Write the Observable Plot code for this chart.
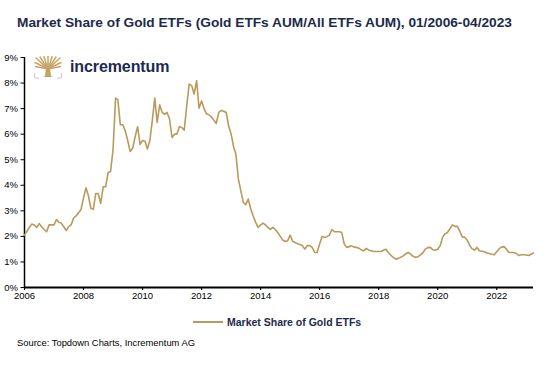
<!DOCTYPE html>
<html><head><meta charset="utf-8">
<script src="https://cdn.jsdelivr.net/npm/d3@7"></script>
<script src="https://cdn.jsdelivr.net/npm/@observablehq/plot@0.6"></script>
<style>
body{margin:0;background:#fff;font-family:"Liberation Sans",Arial,sans-serif;}
#wrap{position:relative;width:552px;height:376px;overflow:hidden;background:#fff;}
#title{position:absolute;left:17px;top:15px;font-size:13.7px;font-weight:bold;color:#1c2a4c;white-space:nowrap;}
#chart{position:absolute;left:0;top:40px;}
#logo{position:absolute;left:34px;top:56px;}
#brand{position:absolute;left:70px;top:58px;font-size:16px;font-weight:bold;color:#1c2a55;letter-spacing:-0.1px;}
#legend{position:absolute;left:193px;top:315px;height:14px;display:flex;align-items:center;white-space:nowrap;}
#legend .sw{width:30px;height:2px;background:#b99a5b;margin-right:4px;}
#legend .lt{font-size:10.5px;font-weight:bold;color:#1c2a4c;}
#source{position:absolute;left:17px;top:337px;font-size:9.4px;color:#000;white-space:nowrap;}
</style></head>
<body>
<div id="wrap">
  <div id="title">Market Share of Gold ETFs (Gold ETFs AUM/All ETFs AUM), 01/2006-04/2023</div>
  <div id="chart"></div>
  <svg id="logo" width="28" height="23" viewBox="0 0 28 23">
    <g stroke="#c4a464" stroke-width="1.5" fill="none" stroke-linecap="round">
      <line x1="14" y1="13" x2="2" y2="2"/>
      <line x1="14" y1="13" x2="6" y2="1"/>
      <line x1="14" y1="13" x2="10" y2="0.8"/>
      <line x1="14" y1="13" x2="14" y2="0.5"/>
      <line x1="14" y1="13" x2="18" y2="0.8"/>
      <line x1="14" y1="13" x2="22" y2="1"/>
      <line x1="14" y1="13" x2="26" y2="2"/>
      <line x1="14" y1="13" x2="1" y2="6.5"/>
      <line x1="14" y1="13" x2="27" y2="6.5"/>
      <line x1="14" y1="13" x2="1.5" y2="10.5"/>
      <line x1="14" y1="13" x2="26.5" y2="10.5"/>
    </g>
    <path d="M12 12 L16 12 L17 20 L19 21 L9 21 L11 20 Z" fill="#c4a464"/>
    <g stroke="#c8c8c8" stroke-width="1" fill="none">
      <polyline points="0.5,17 0.5,22 5,22"/>
      <polyline points="27.5,17 27.5,22 23,22"/>
    </g>
  </svg>
  <div id="brand">incrementum</div>
  <div id="legend"><div class="sw"></div><div class="lt">Market Share of Gold ETFs</div></div>
  <div id="source">Source: Topdown Charts, Incrementum AG</div>
</div>
<script>
// Monthly series, 01/2006 - 04/2023, market share of gold ETFs (% of all ETF AUM)
const startYear = 2006;
const seriesName = "Market Share of Gold ETFs";
const shareValues = [
  2.05, 2.20, 2.35, 2.48, 2.45, 2.35, 2.50, 2.38, 2.27, 2.18, 2.45, 2.45,
  2.45, 2.66, 2.55, 2.52, 2.38, 2.23, 2.38, 2.45, 2.72, 2.80, 2.92, 3.05,
  3.50, 3.90, 3.60, 3.10, 3.06, 3.68, 3.68, 3.29, 3.94, 3.94, 4.50, 4.54,
  5.40, 7.41, 7.35, 6.37, 6.37, 6.13, 5.75, 5.32, 5.45, 5.90, 6.29, 5.60,
  5.75, 5.72, 5.42, 5.74, 6.52, 7.41, 6.46, 7.15, 6.85, 6.78, 6.85, 6.59,
  5.87, 6.00, 6.00, 6.29, 6.26, 6.16, 7.10, 7.96, 7.90, 7.57, 8.09, 7.02,
  7.30, 7.00, 6.80, 6.76, 6.68, 6.55, 6.42, 6.85, 6.93, 6.90, 6.85, 6.33,
  6.00, 5.50, 5.22, 4.24, 3.78, 3.33, 3.24, 3.46, 3.07, 2.80, 2.55, 2.35,
  2.45, 2.52, 2.45, 2.35, 2.27, 2.35, 2.27, 2.15, 2.00, 1.86, 1.80, 1.83,
  2.05, 1.81, 1.76, 1.72, 1.68, 1.64, 1.50, 1.64, 1.64, 1.57, 1.37, 1.37,
  1.70, 2.00, 1.96, 1.99, 2.05, 2.27, 2.18, 2.18, 2.18, 2.15, 1.70, 1.57,
  1.60, 1.63, 1.58, 1.57, 1.54, 1.47, 1.44, 1.53, 1.46, 1.44, 1.41, 1.41,
  1.41, 1.41, 1.46, 1.50, 1.37, 1.26, 1.18, 1.11, 1.14, 1.18, 1.24, 1.32,
  1.37, 1.31, 1.22, 1.18, 1.20, 1.28, 1.35, 1.50, 1.56, 1.57, 1.48, 1.46,
  1.50, 1.63, 1.96, 2.10, 2.15, 2.30, 2.45, 2.39, 2.39, 2.20, 1.98, 1.97,
  1.85, 1.64, 1.52, 1.46, 1.57, 1.44, 1.42, 1.40, 1.35, 1.33, 1.30, 1.28,
  1.40, 1.52, 1.58, 1.60, 1.50, 1.37, 1.37, 1.37, 1.33, 1.25, 1.28, 1.28,
  1.27, 1.25, 1.30, 1.35
];
const xTickYears = [2006, 2008, 2010, 2012, 2014, 2016, 2018, 2020, 2022];
const yTicks = [0, 1, 2, 3, 4, 5, 6, 7, 8, 9];

const data = shareValues.map((v, i) => ({date: new Date(Date.UTC(startYear, i, 1)), value: v, series: seriesName}));
const xStart = new Date(Date.UTC(2006, 0, 1));
const xEnd = new Date(Date.UTC(2023, 3, 1));
const xTicks = xTickYears.map(y => new Date(Date.UTC(y, 0, 1)));

const chart = Plot.plot({
  width: 552,
  height: 269,
  marginLeft: 24,
  marginRight: 19,
  marginTop: 17,
  marginBottom: 22,
  x: {type: "utc", domain: [xStart, xEnd]},
  y: {domain: [0, 9]},
  style: {fontFamily: "Liberation Sans, Arial, sans-serif", fontSize: "9.5px", color: "#000", background: "transparent", overflow: "visible"},
  marks: [
    Plot.axisY(yTicks, {tickSize: 3.5, tickPadding: 3, tickFormat: d => d + "%", label: null, stroke: "#000", strokeWidth: 1}),
    Plot.axisX(xTicks, {tickSize: 3, tickPadding: 2, tickFormat: d => String(d.getUTCFullYear()), label: null, stroke: "#000", strokeWidth: 1.2}),
    Plot.ruleX([xStart], {y1: 0, y2: 9, stroke: "#000", strokeWidth: 1.5}),
    Plot.lineY(data, {x: "date", y: "value", stroke: "#b99a5b", strokeWidth: 1.6}),
    Plot.ruleY([0], {x1: xStart, x2: xEnd, stroke: "#000", strokeWidth: 2.2})
  ]
});
document.getElementById("chart").appendChild(chart);
</script>
</body></html>
